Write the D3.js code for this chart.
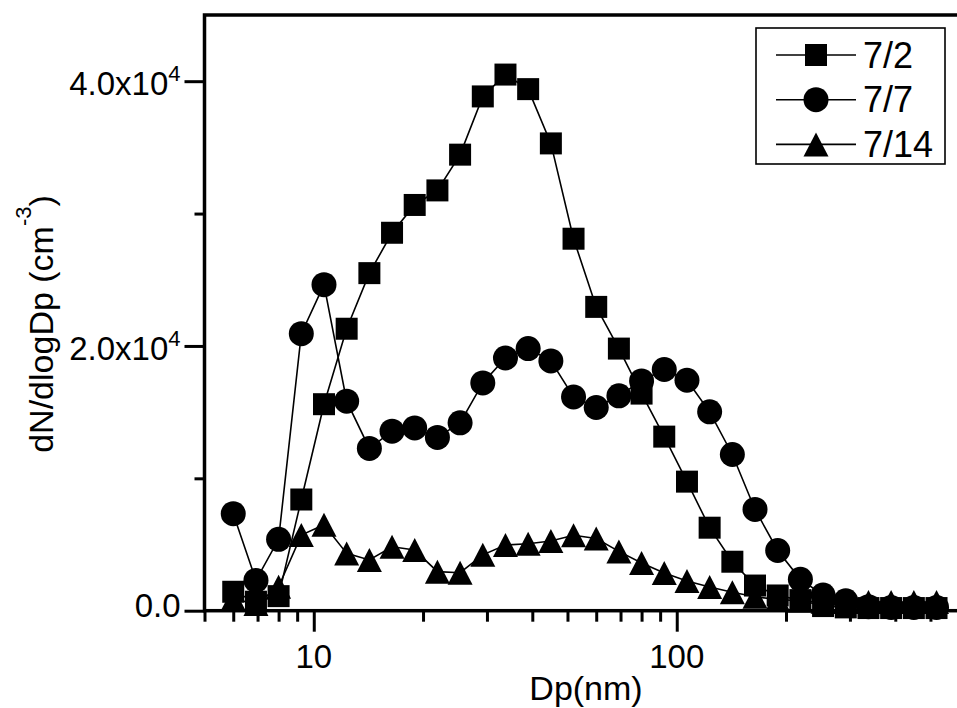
<!DOCTYPE html>
<html>
<head>
<meta charset="utf-8">
<script src="https://cdn.jsdelivr.net/npm/d3@7"></script>
<style>
    body { margin: 0; background: #fff; }
    svg text { font-family: "Liberation Sans", Arial, sans-serif; fill: #000; }
</style>
</head>
<body>
<svg id="chart" width="957" height="708"></svg>
<script>
// particle diameter (nm)
const dp = [6.0, 6.93, 8.0, 9.24, 10.67, 12.32, 14.23, 16.43, 18.97, 21.91, 25.3, 29.22,
    33.74, 38.96, 45.0, 51.96, 60.0, 69.28, 80.0, 92.38, 106.7, 123.2, 142.3, 164.3,
    189.7, 219.1, 253.0, 292.2, 337.4, 389.6, 450.0, 519.6];

// dN/dlogDp (cm-3)
const jul2 = [1430, 680, 1100, 8400, 15600, 21300, 25500, 28550, 30650, 31750, 34450, 38850,
    40500, 39400, 35300, 28100, 22950, 19800, 16400, 13150, 9750, 6270, 3700, 1900,
    1150, 800, 350, 250, 200, 200, 200, 200];
const jul7 = [7330, 2290, 5390, 20930, 24630, 15830, 12260, 13560, 13810, 13090, 14190, 17210,
    19090, 19800, 18870, 16150, 15350, 16230, 17360, 18220, 17410, 15020, 11800, 7650,
    4550, 2370, 1185, 750, 300, 250, 250, 250];
const jul14 = [900, 500, 1810, 5710, 6500, 4330, 3830, 4830, 4580, 2950, 2870, 4220,
    4960, 5060, 5260, 5700, 5450, 4480, 3600, 2850, 2240, 1790, 1400, 1050,
    850, 750, 680, 650, 650, 650, 650, 650];

const seriesNames = ["7/2", "7/7", "7/14"];
const seriesSymbols = ["square", "circle", "triangle"];

const xMajorTicks = [10, 100];
const xMinorTicks = [5, 6, 7, 8, 9, 20, 30, 40, 50, 60, 70, 80, 90, 200, 300, 400, 500];
const yMajorTicks = [0, 20000, 40000];
const yMinorTicks = [10000, 30000];
const yTickText = ["0.0", "2.0x10", "4.0x10"];
const yTickSup = ["", "4", "4"];

let margin = { top: 15, left: 204.5 },
    width = 754.7,
    height = 595.7;

let svg = d3.select('#chart')
    .append('g')
    .attr('transform', 'translate(' + margin.left + ',' + margin.top + ')');

let xScale = d3.scaleLog().domain([5, 600]).range([0, width]);
let yScale = d3.scaleLinear().domain([0, 45000]).range([height, 0]);

// marker paths, triangle centred on its box like Origin does
let markerPath = (type) => {
    if (type == 'square') return 'M-11,-11H11V11H-11Z';
    if (type == 'circle') return d3.symbol().type(d3.symbolCircle).size(Math.PI * 12.5 * 12.5)();
    return 'M0,-12L12.5,12L-12.5,12Z';
};

// frame
svg.append('rect')
    .attr('width', width)
    .attr('height', height)
    .attr('fill', 'none')
    .attr('stroke', '#000')
    .attr('stroke-width', 3.5);

// axes: ticks only, labels drawn by hand
let styleAxis = (g) => {
    g.select('.domain').remove();
    g.selectAll('.tick line').attr('stroke', '#000').attr('stroke-width', 3);
    g.selectAll('.tick text').remove();
};

svg.append('g')
    .attr('transform', 'translate(0,' + height + ')')
    .call(d3.axisBottom(xScale).tickValues(xMajorTicks).tickSize(21))
    .call(styleAxis);
svg.append('g')
    .attr('transform', 'translate(0,' + height + ')')
    .call(d3.axisBottom(xScale).tickValues(xMinorTicks).tickSize(11))
    .call(styleAxis);
svg.append('g')
    .call(d3.axisLeft(yScale).tickValues(yMajorTicks).tickSize(20))
    .call(styleAxis);
svg.append('g')
    .call(d3.axisLeft(yScale).tickValues(yMinorTicks).tickSize(10))
    .call(styleAxis);

// x tick labels
svg.selectAll('.x-label')
    .data(xMajorTicks)
    .enter()
    .append('text')
    .attr('x', d => xScale(d))
    .attr('y', height + 57)
    .attr('text-anchor', 'middle')
    .style('font-size', '33px')
    .text(d => d);

// y tick labels with power of ten
let yLabels = svg.selectAll('.y-label')
    .data(yMajorTicks)
    .enter()
    .append('text')
    .attr('x', -24)
    .attr('y', (d, i) => yScale(d) + (yTickSup[i] ? 14 : 6))
    .attr('text-anchor', 'end')
    .style('font-size', '33px');
yLabels.append('tspan').text((d, i) => yTickText[i]);
yLabels.append('tspan')
    .attr('dy', -14)
    .style('font-size', '22px')
    .text((d, i) => yTickSup[i]);

// axis titles
svg.append('text')
    .attr('x', 586 - margin.left)
    .attr('y', 700 - margin.top)
    .attr('text-anchor', 'middle')
    .style('font-size', '34px')
    .text('Dp(nm)');

let yTitle = svg.append('text')
    .attr('transform', 'translate(' + (53 - margin.left) + ',' + (324 - margin.top) + ') rotate(-90)')
    .attr('text-anchor', 'middle')
    .style('font-size', '34px');
yTitle.append('tspan').text('dN/dlogDp (cm');
yTitle.append('tspan').attr('dy', -22).style('font-size', '22px').text('-3');
yTitle.append('tspan').attr('dy', 22).text(')');

// series, drawn so that squares end up on top
let series = [jul2, jul7, jul14].map((vals, i) => ({
    name: seriesNames[i],
    symbol: seriesSymbols[i],
    values: dp.map((x, j) => ({ x: x, y: vals[j] }))
}));

let line = d3.line()
    .x(d => xScale(d.x))
    .y(d => yScale(d.y));

series.slice().reverse().forEach(s => {
    let g = svg.append('g');
    g.append('path')
        .datum(s.values)
        .attr('d', line)
        .attr('fill', 'none')
        .attr('stroke', '#000')
        .attr('stroke-width', 1.6);
    g.selectAll('.marker')
        .data(s.values)
        .enter()
        .append('path')
        .attr('transform', d => 'translate(' + xScale(d.x) + ',' + yScale(d.y) + ')')
        .attr('d', markerPath(s.symbol))
        .attr('fill', '#000');
});

// legend
let legend = d3.select('#chart').append('g');
legend.append('rect')
    .attr('x', 756)
    .attr('y', 28)
    .attr('width', 189)
    .attr('height', 136)
    .attr('fill', '#fff')
    .attr('stroke', '#000')
    .attr('stroke-width', 1.6);

series.forEach((s, i) => {
    let row = legend.append('g')
        .attr('transform', 'translate(0,' + (55 + i * 44.7) + ')');
    row.append('line')
        .attr('x1', 776)
        .attr('x2', 856)
        .attr('stroke', '#000')
        .attr('stroke-width', 1.6);
    row.append('path')
        .attr('transform', 'translate(816,0)')
        .attr('d', markerPath(s.symbol))
        .attr('fill', '#000');
    row.append('text')
        .attr('x', 863)
        .attr('y', 12.5)
        .style('font-size', '36px')
        .text(s.name);
});
</script>
</body>
</html>
